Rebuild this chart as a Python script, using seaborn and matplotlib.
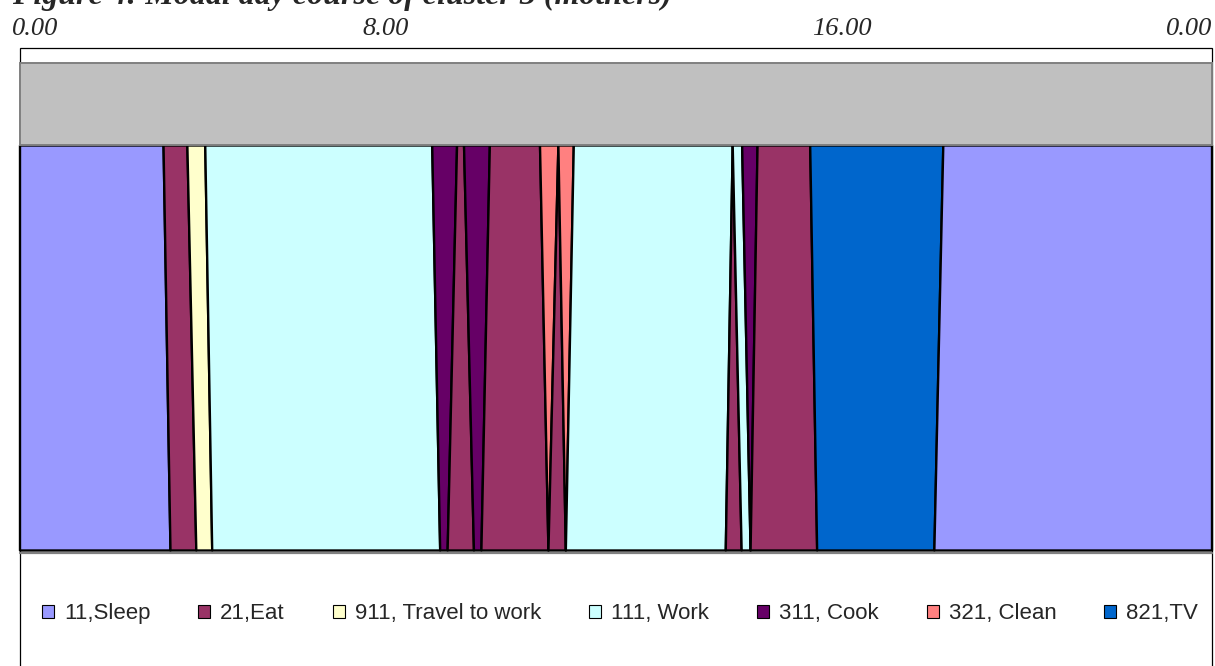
import matplotlib
matplotlib.use("Agg")
import matplotlib.pyplot as plt
from matplotlib.patches import Rectangle, Patch
import seaborn as sns
import numpy as np

# ---- data -------------------------------------------------------------
activities = ["11,Sleep", "21,Eat", "911, Travel to work", "111, Work",
              "311, Cook", "21,Eat", "311, Cook", "21,Eat",
              "321, Clean", "21,Eat", "321, Clean", "111, Work",
              "21,Eat", "111, Work", "311, Cook", "21,Eat",
              "821,TV", "11,Sleep"]
# duration (hours) of each segment along the top edge and bottom edge
top_hours = [2.89, 0.48, 0.36, 4.57, 0.50, 0.14, 0.52, 1.01,
             0.37, 0.00, 0.31, 3.20, 0.00, 0.19, 0.31, 1.06, 2.68, 5.41]
bottom_hours = [3.03, 0.52, 0.32, 4.59, 0.15, 0.53, 0.15, 1.35,
                0.00, 0.35, 0.00, 3.22, 0.32, 0.18, 0.00, 1.34, 2.36, 5.59]

legend_labels = ["11,Sleep", "21,Eat", "911, Travel to work", "111, Work",
                 "311, Cook", "321, Clean", "821,TV"]
palette_hex = ["#9999FF", "#993366", "#FFFFCC", "#CCFFFF",
               "#660066", "#FF8080", "#0066CC"]
time_labels = ["0.00", "8.00", "16.00", "0.00"]
title = "Figure 4: Modal day course of cluster 3 (mothers)"

# ---- figure -------------------------------------------------------------
sns.set_theme(style="white")
plt.rcParams["font.family"] = ["Liberation Sans", "DejaVu Sans"]
palette = dict(zip(legend_labels, sns.color_palette(palette_hex)))

W, H = 1215, 666
fig = plt.figure(figsize=(W / 100, H / 100), dpi=100)
fig.patch.set_facecolor("white")

def fx(px):
    return px / W

def fy(py):
    return 1 - py / H

X0, X1 = 19.5, 1211.5
Y_TOP, Y_BOT = 145, 550

# outer frame
fig.add_artist(Rectangle((fx(X0), fy(672)), fx(X1 - X0), (672 - 48) / H,
                         transform=fig.transFigure, facecolor="white",
                         edgecolor="black", linewidth=0.9, zorder=0))
# grey top band
fig.add_artist(Rectangle((fx(X0), fy(Y_TOP)), fx(X1 - X0), (Y_TOP - 63) / H,
                         transform=fig.transFigure, facecolor="#C0C0C0",
                         edgecolor="#808080", linewidth=1.4, zorder=1))
# grey line under the area
fig.add_artist(plt.Line2D([fx(X0), fx(X1)], [fy(553), fy(553)],
                          transform=fig.transFigure, color="#808080",
                          linewidth=1.6, zorder=1))

ax = fig.add_axes([fx(X0), fy(Y_BOT), fx(X1 - X0), (Y_BOT - Y_TOP) / H])
ax.set_xlim(0, 24)
ax.set_ylim(0, 1)
ax.set_axis_off()

top_edges = np.concatenate([[0], np.cumsum(top_hours)])
bot_edges = np.concatenate([[0], np.cumsum(bottom_hours)])
for i, act in enumerate(activities):
    ax.fill_betweenx([0, 1], [bot_edges[i], top_edges[i]],
                     [bot_edges[i + 1], top_edges[i + 1]],
                     facecolor=palette[act], edgecolor="black",
                     linewidth=1.7, clip_on=False)

# time labels
label_px = [12, 362, 812, 1166]
for lab, px in zip(time_labels, label_px):
    fig.text(fx(px), fy(35), lab, fontsize=19, style="italic",
             family="Liberation Serif", ha="left", va="baseline")

fig.text(fx(12), fy(4), title, fontsize=23, style="italic", weight="bold",
         family="Liberation Serif", ha="left", va="baseline")

# legend
handles = [Patch(facecolor=palette[l], edgecolor="black", linewidth=0.8)
           for l in legend_labels]
fig.legend(handles, legend_labels, loc="center",
           bbox_to_anchor=(fx(620), fy(614)), ncol=7, frameon=False,
           fontsize=16, handlelength=0.55, handleheight=0.55,
           handletextpad=0.45, columnspacing=2.15)

fig.savefig("out.png", dpi=100, facecolor="white")
